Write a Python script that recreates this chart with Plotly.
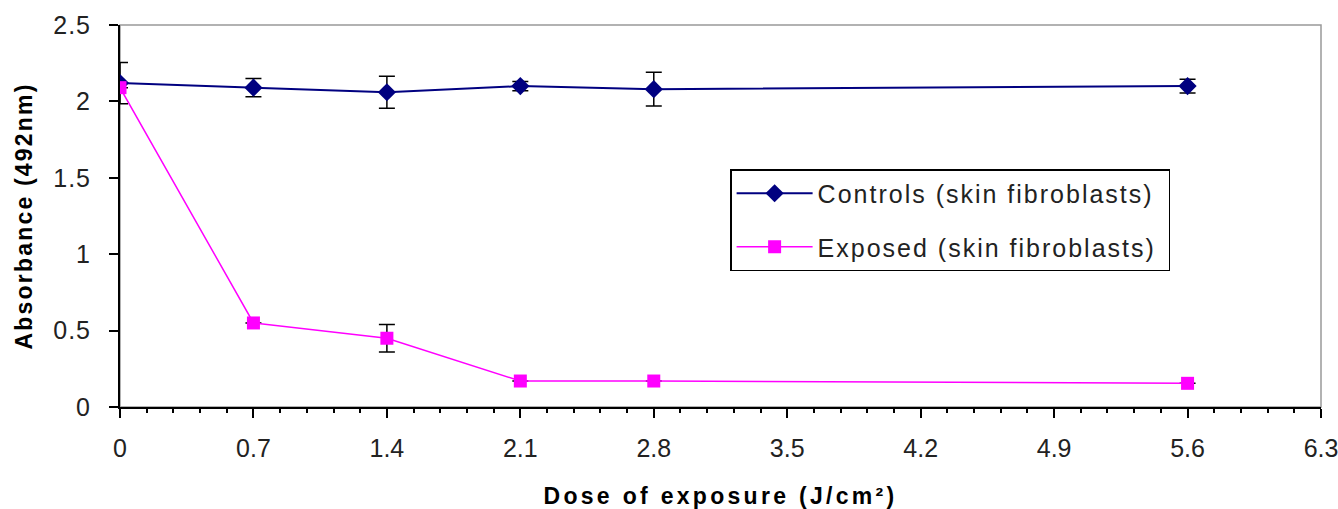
import plotly.graph_objects as go

dose = [0, 0.7, 1.4, 2.1, 2.8, 5.6]
controls = [2.12, 2.09, 2.06, 2.10, 2.08, 2.10]
controls_err = [0.135, 0.06, 0.105, 0.03, 0.11, 0.045]
exposed = [2.09, 0.55, 0.45, 0.17, 0.17, 0.155]
exposed_err = [0, 0, 0.09, 0, 0, 0]
x_ticks = [0, 0.7, 1.4, 2.1, 2.8, 3.5, 4.2, 4.9, 5.6, 6.3]
y_ticks = [0, 0.5, 1, 1.5, 2, 2.5]
series_names = ["Controls (skin fibroblasts)", "Exposed (skin fibroblasts)"]

FONT = "Liberation Sans"


def spaced(text, px):
    return '<span style="letter-spacing:%gpx">%s</span>' % (px, text)


fig = go.Figure()
fig.add_trace(go.Scatter(
    x=dose, y=controls, mode="lines+markers", name=spaced(series_names[0], 2) + "&nbsp;",
    legendgroup="a",
    line=dict(color="#000080", width=2),
    marker=dict(symbol="diamond", size=14, color="#000080"),
    error_y=dict(type="data", array=controls_err, color="black", thickness=1.5, width=8),
))
fig.add_trace(go.Scatter(
    x=dose, y=exposed, mode="lines+markers", name=spaced(series_names[1], 2) + "&nbsp;",
    legendgroup="b",
    line=dict(color="#FF00FF", width=1.5),
    marker=dict(symbol="square", size=13, color="#FF00FF"),
    error_y=dict(type="data", array=exposed_err, color="black", thickness=1.5, width=8),
))

fig.add_shape(type="rect", xref="paper", yref="paper", x0=0, x1=1, y0=0, y1=1,
              line=dict(color="#999999", width=1.5), layer="below")

fig.update_layout(
    width=1338, height=509,
    margin=dict(l=120, r=17, t=25, b=102, autoexpand=False),
    paper_bgcolor="white", plot_bgcolor="white",
    font=dict(family=FONT, size=25, color="#222222"),
    showlegend=True,
    legend=dict(x=0.508, y=0.623, xanchor="left", yanchor="top",
                bordercolor="black", borderwidth=1.5, bgcolor="white",
                font=dict(family=FONT, size=25, color="#222222"),
                itemwidth=76, tracegroupgap=18),
    xaxis=dict(range=[0, 6.3], tickvals=x_ticks, automargin=False,
               ticktext=["%g" % v for v in x_ticks],
               showgrid=False, zeroline=False, showline=True, linecolor="black", linewidth=2,
               ticks="outside", ticklen=9, tickwidth=1.5, tickcolor="black",
               minor=dict(dtick=0.14, tick0=0, ticks="outside", ticklen=4, tickcolor="black", tickwidth=1.5),
               tickfont=dict(family=FONT, size=25), ticklabelstandoff=9,
               ticklabeloverflow="allow",
               title=dict(text="<b>" + spaced("Dose of exposure (J/cm²)", 3.3) + "</b>", standoff=27,
                          font=dict(family=FONT, size=23, color="black"))),
    yaxis=dict(range=[0, 2.5], tickvals=y_ticks, automargin=False,
               ticktext=[spaced("%g" % v, 1) for v in y_ticks],
               showgrid=False, zeroline=False, showline=True, linecolor="black", linewidth=2,
               ticks="outside", ticklen=9, tickwidth=1.5, tickcolor="black",
               tickfont=dict(family=FONT, size=25), ticklabelstandoff=13,
               title=dict(text="<b>" + spaced("Absorbance (492nm)", 2.2) + "</b>", standoff=14,
                          font=dict(family=FONT, size=23, color="black"))),
)

fig.write_html("out.html", config={"displayModeBar": False},
               post_script="document.body.style.margin='0';")
